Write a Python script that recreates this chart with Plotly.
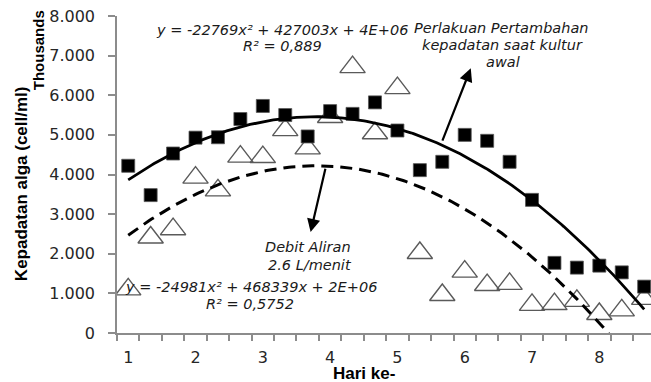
import numpy as np
import plotly.graph_objects as go

# Sampling positions (day axis; 3 samplings per day)
sample_index = list(range(1, 25))
hari = [1 + (i - 1) / 3 for i in sample_index]

# Values (cell/ml)
perlakuan_pertambahan = [4220, 3480, 4530, 4930, 4940, 5400, 5730, 5500, 4960, 5600,
                         5530, 5820, 5110, 4110, 4320, 5000, 4850, 4320, 3360, 1770,
                         1650, 1700, 1530, 1170]
debit_aliran = [1100, 2410, 2620, 3920, 3600, 4450, 4440, 5120, 4660, 5450,
                6710, 5040, 6180, 2020, 960, 1550, 1210, 1240, 710, 730,
                810, 480, 570, 860]

x_tick_vals = [1, 2, 3, 4, 5, 6, 7, 8]
x_tick_text = ["1", "2", "3", "4", "5", "6", "7", "8"]
y_tick_vals = [0, 1000, 2000, 3000, 4000, 5000, 6000, 7000, 8000]
y_tick_text = ["0", "1.000", "2.000", "3.000", "4.000", "5.000", "6.000", "7.000", "8.000"]

# Polynomial (order 2) trendlines, fitted on the sample index as Excel does
idx = np.array(sample_index, dtype=float)
coef_a = np.polyfit(idx, np.array(perlakuan_pertambahan), 2)
coef_b = np.polyfit(idx, np.array(debit_aliran), 2)
fine_idx = np.linspace(1, 24, 200)
fine_hari = 1 + (fine_idx - 1) / 3
trend_a = np.polyval(coef_a, fine_idx)
trend_b = np.polyval(coef_b, fine_idx)

fig = go.Figure()
fig.add_trace(go.Scatter(
    x=hari, y=debit_aliran, mode="markers",
    marker=dict(symbol="triangle-up-open", size=22, color="#5a5a5a", line=dict(width=1.4)),
    showlegend=False, cliponaxis=True))
fig.add_trace(go.Scatter(
    x=hari, y=perlakuan_pertambahan, mode="markers",
    marker=dict(symbol="square", size=13, color="#000000", line=dict(width=0.8, color="#555555")),
    showlegend=False, cliponaxis=True))
fig.add_trace(go.Scatter(
    x=fine_hari, y=trend_a, mode="lines",
    line=dict(color="#000000", width=2.8), showlegend=False))
fig.add_trace(go.Scatter(
    x=fine_hari, y=trend_b, mode="lines",
    line=dict(color="#000000", width=3, dash="12px,7px"), showlegend=False))

L, T, B = 117, 15.7, 49
W, H = 651, 382
PW, PH = W - L, H - T - B


def px(x):
    return (x - L) / PW


def py(y):
    return (H - B - y) / PH


ital = dict(family="DejaVu Sans", size=14.5, color="#1a1a1a")
notes = [
    ("<i>y = -22769x² + 427003x + 4E+06</i>", 282, 30),
    ("<i>R² = 0,889</i>", 282, 46),
    ("<i>Perlakuan Pertambahan</i>", 501, 28),
    ("<i>kepadatan saat kultur</i>", 502, 45),
    ("<i>awal</i>", 503, 62),
    ("<i>Debit Aliran</i>", 308, 247),
    ("<i>2.6 L/menit</i>", 310, 265),
    ("<i>y = -24981x² + 468339x + 2E+06</i>", 251, 287),
    ("<i>R² = 0,5752</i>", 250, 304),
]
annotations = []
for text, x, y in notes:
    annotations.append(dict(text=text, x=px(x), y=py(y), xref="paper", yref="paper",
                            showarrow=False, font=ital, xanchor="center", yanchor="middle"))

# Arrows
annotations.append(dict(x=6.09, y=6680, ax=5.66, ay=4816, xref="x", yref="y", axref="x", ayref="y",
                        text="", showarrow=True, arrowhead=2, arrowsize=1.2, arrowwidth=2.2,
                        arrowcolor="#000000"))
annotations.append(dict(x=3.71, y=2547, ax=3.935, ay=4186, xref="x", yref="y", axref="x", ayref="y",
                        text="", showarrow=True, arrowhead=2, arrowsize=1.2, arrowwidth=2.2,
                        arrowcolor="#000000"))

# Axis titles
annotations.append(dict(text="<b>Kepadatan alga (cell/ml)</b>", x=px(21), y=py(184), xref="paper",
                        yref="paper", showarrow=False, textangle=-90,
                        xanchor="center", yanchor="middle",
                        font=dict(family="Liberation Sans", size=17, color="#000000")))
annotations.append(dict(text="<b>Thousands</b>", x=px(38), y=py(50), xref="paper",
                        yref="paper", showarrow=False, textangle=-90,
                        xanchor="center", yanchor="middle",
                        font=dict(family="Liberation Sans", size=15, color="#000000")))
annotations.append(dict(text="<b>Hari ke-</b>", x=px(364), y=py(374), xref="paper",
                        yref="paper", showarrow=False, xanchor="center", yanchor="middle",
                        font=dict(family="Liberation Sans", size=17, color="#000000")))

fig.update_layout(
    width=W, height=H,
    margin=dict(l=L, r=0, t=T, b=B, pad=0),
    paper_bgcolor="white", plot_bgcolor="white",
    annotations=annotations,
    xaxis=dict(range=[1 - 1 / 6, 1 - 1 / 6 + PW / 67.3], tickmode="array",
               tickvals=x_tick_vals, ticktext=x_tick_text, ticks="", showgrid=False,
               zeroline=False, showline=True, linecolor="#8c8c8c", linewidth=1.5,
               ticklabelstandoff=9,
               tickfont=dict(family="DejaVu Sans", size=16, color="#262626"),
               minor=dict(tickmode="linear", tick0=1 - 1 / 6, dtick=1 / 3, ticks="outside",
                          ticklen=6, tickcolor="#8c8c8c", tickwidth=1.5, showgrid=False)),
    yaxis=dict(range=[0, 8000], tickmode="array", tickvals=y_tick_vals, ticktext=y_tick_text,
               ticks="outside", ticklen=7, tickcolor="#8c8c8c", tickwidth=1.5,
               showgrid=False, zeroline=False, showline=True, linecolor="#8c8c8c",
               linewidth=1.5, ticklabelstandoff=10,
               tickfont=dict(family="DejaVu Sans", size=16, color="#262626")),
)

fig.write_html("out.html", config={"displayModeBar": False},
               post_script="document.body.style.margin='0';document.body.style.padding='0';")
